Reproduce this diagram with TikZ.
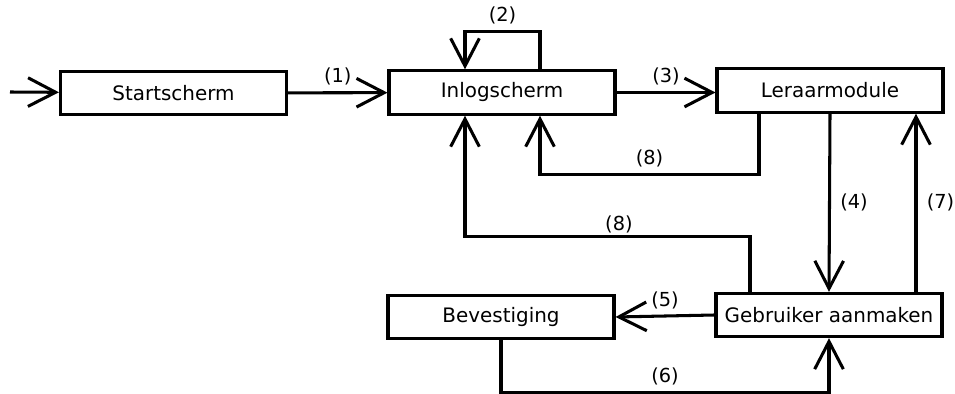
\documentclass[tikz,border=0pt]{standalone}
\usepackage{fontspec}
\setmainfont{DejaVu Sans}
\usetikzlibrary{calc}
\usetikzlibrary{arrows.meta}

\begin{document}
\begin{tikzpicture}[x=0.03cm,y=-0.03cm,
  screen/.style={draw, line width=2.6pt, minimum width=6.78cm, minimum height=1.3cm,
    inner sep=0pt, font=\fontsize{17}{20}\selectfont},
  flow/.style={line width=2.6pt, -{Straight Barb[length=8.3mm,width=8.6mm]}},
  lbl/.style={font=\fontsize{16.5}{19}\selectfont, inner sep=2pt}]
\useasboundingbox (0,0) rectangle (955,394);

\node[screen] (start)  at (173.5,93)  {Startscherm};
\node[screen] (inlog)  at (502,92.5)  {Inlogscherm};
\node[screen] (leraar) at (830,90.5)  {Leraarmodule};
\node[screen] (gebr)   at (829,315)   {Gebruiker aanmaken};
\node[screen] (bevest) at (501,317)   {Bevestiging};
\coordinate (entry) at (10,92);

\draw[flow] (entry) -- (start);
\draw[flow] (start) -- (inlog) node[lbl, midway, above=3pt] {(1)};
\draw[flow] ($(inlog.north)+(38,0)$) -- ++(0,-38) -| ($(inlog.north)+(-37,0)$)
  node[lbl, pos=0.25, above=3pt] {(2)};
\draw[flow] (inlog.east) -- (inlog.east -| leraar.west) node[lbl, midway, above=3pt] {(3)};
\draw[flow] ($(leraar.south)+(-71,0)$) -- ++(0,61) -| ($(inlog.south)+(38,0)$)
  node[lbl, pos=0.25, above=3pt] {(8)};
\draw[flow] (leraar.south) -- (gebr.north) node[lbl, midway, right=6pt] {(4)};
\draw[flow] ($(gebr.north)+(87,0)$) -- ($(leraar.south)+(86,0)$) node[lbl, midway, right=6pt] {(7)};
\draw[flow] ($(gebr.north)+(-79,0)$) -- ++(0,-55) -| ($(inlog.south)+(-37,0)$)
  node[lbl, pos=0.23, above=0pt] {(8)};
\draw[flow] (gebr.west) -- (bevest.east) node[lbl, midway, above=3pt] {(5)};
\draw[flow] (bevest.south) -- ++(0,52) -| (gebr.south) node[lbl, pos=0.25, above=3pt] {(6)};

\end{tikzpicture}
\end{document}
